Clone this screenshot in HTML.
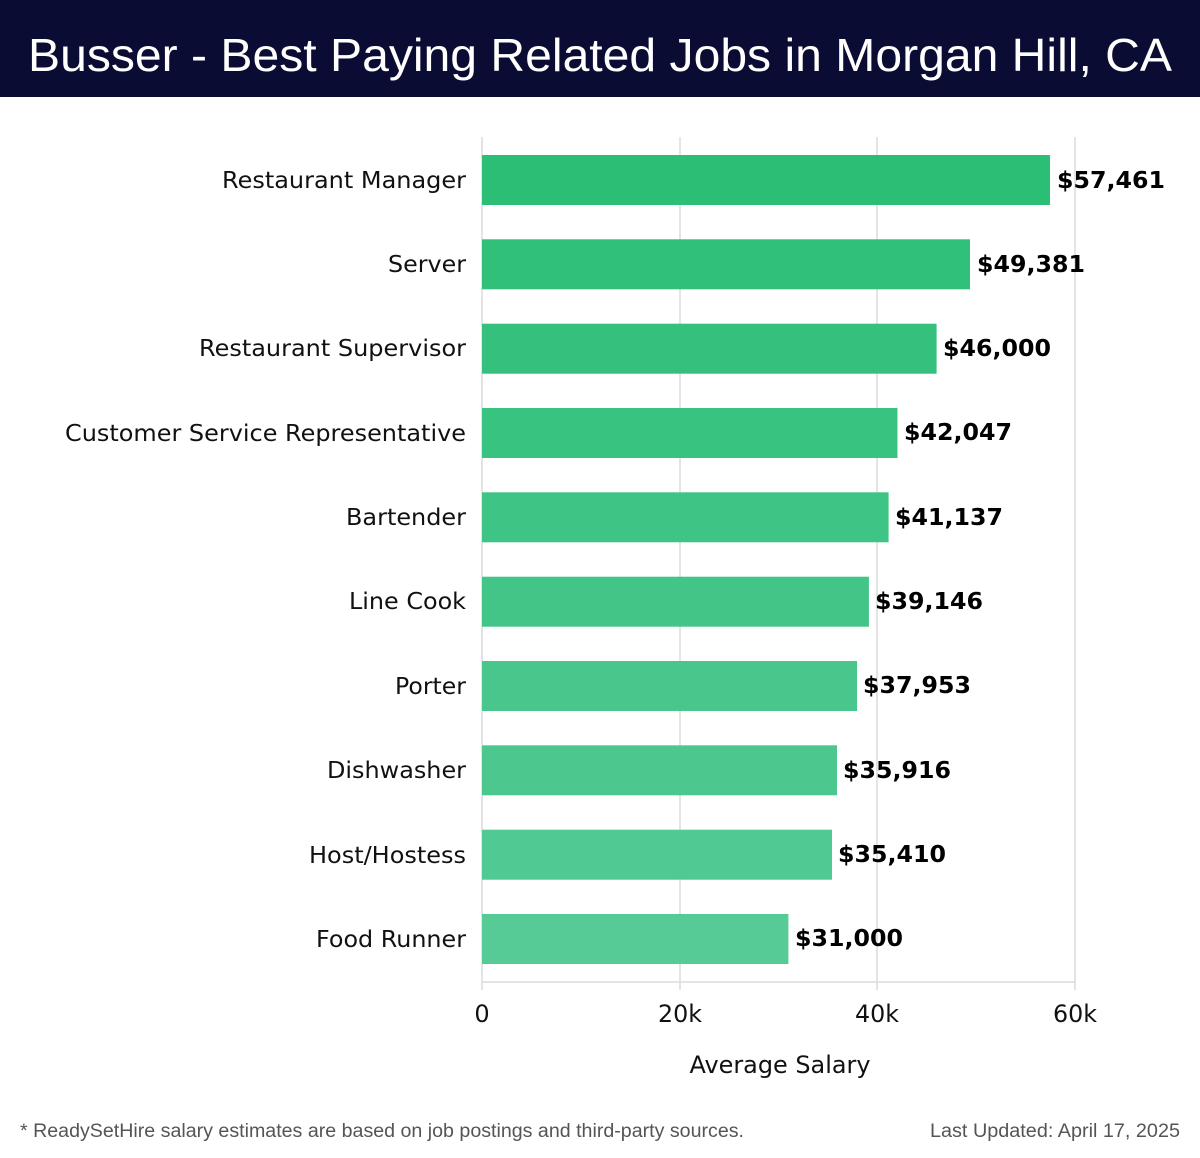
<!DOCTYPE html>
<html><head><meta charset="utf-8"><style>
body{margin:0;background:#fff;}
svg{display:block;font-family:"DejaVu Sans","Liberation Sans",sans-serif;}
</style></head><body>
<svg width="1200" height="1158" viewBox="0 0 1200 1158" xmlns="http://www.w3.org/2000/svg">
<rect x="0" y="0" width="1200" height="97" fill="#0b0c33"/>
<text x="28" y="71" fill="#fff" font-size="46" textLength="1144" lengthAdjust="spacingAndGlyphs" style="font-family:'Liberation Sans',sans-serif">Busser - Best Paying Related Jobs in Morgan Hill, CA</text>
<g stroke="#dcdcdc" stroke-width="1.5">
<line x1="482" y1="137" x2="482" y2="990"/>
<line x1="680" y1="137" x2="680" y2="990"/>
<line x1="877" y1="137" x2="877" y2="990"/>
<line x1="1075" y1="137" x2="1075" y2="990"/>
<line x1="482" y1="982" x2="1075" y2="982"/>
</g>
<g>
<rect x="482" y="155" width="568" height="50" fill="#2bbf76"/>
<rect x="482" y="239.3" width="488" height="50" fill="#30c07a"/>
<rect x="482" y="323.7" width="454.6" height="50" fill="#35c17d"/>
<rect x="482" y="408" width="415.5" height="50" fill="#39c381"/>
<rect x="482" y="492.3" width="406.6" height="50" fill="#3ec484"/>
<rect x="482" y="576.7" width="386.9" height="50" fill="#43c588"/>
<rect x="482" y="661" width="375.1" height="50" fill="#48c68b"/>
<rect x="482" y="745.3" width="355" height="50" fill="#4cc88f"/>
<rect x="482" y="829.7" width="350" height="50" fill="#51c992"/>
<rect x="482" y="914" width="306.4" height="50" fill="#56cb96"/>
</g>
<g font-size="23" fill="#111" text-anchor="end">
<text x="466" y="188" textLength="244" lengthAdjust="spacingAndGlyphs">Restaurant Manager</text>
<text x="466" y="272" textLength="78" lengthAdjust="spacingAndGlyphs">Server</text>
<text x="466" y="356" textLength="267" lengthAdjust="spacingAndGlyphs">Restaurant Supervisor</text>
<text x="466" y="441" textLength="401" lengthAdjust="spacingAndGlyphs">Customer Service Representative</text>
<text x="466" y="525" textLength="120" lengthAdjust="spacingAndGlyphs">Bartender</text>
<text x="466" y="609" textLength="117" lengthAdjust="spacingAndGlyphs">Line Cook</text>
<text x="466" y="694" textLength="71" lengthAdjust="spacingAndGlyphs">Porter</text>
<text x="466" y="778" textLength="139" lengthAdjust="spacingAndGlyphs">Dishwasher</text>
<text x="466" y="863" textLength="157" lengthAdjust="spacingAndGlyphs">Host/Hostess</text>
<text x="466" y="947" textLength="150" lengthAdjust="spacingAndGlyphs">Food Runner</text>
</g>
<g font-size="23" font-weight="bold" fill="#000">
<text x="1057" y="188" textLength="108" lengthAdjust="spacingAndGlyphs">$57,461</text>
<text x="977" y="272" textLength="108" lengthAdjust="spacingAndGlyphs">$49,381</text>
<text x="943" y="356" textLength="108" lengthAdjust="spacingAndGlyphs">$46,000</text>
<text x="904" y="440" textLength="108" lengthAdjust="spacingAndGlyphs">$42,047</text>
<text x="895" y="525" textLength="108" lengthAdjust="spacingAndGlyphs">$41,137</text>
<text x="875" y="609" textLength="108" lengthAdjust="spacingAndGlyphs">$39,146</text>
<text x="863" y="693" textLength="108" lengthAdjust="spacingAndGlyphs">$37,953</text>
<text x="843" y="778" textLength="108" lengthAdjust="spacingAndGlyphs">$35,916</text>
<text x="838" y="862" textLength="108" lengthAdjust="spacingAndGlyphs">$35,410</text>
<text x="795" y="946" textLength="108" lengthAdjust="spacingAndGlyphs">$31,000</text>
</g>
<g font-size="24" fill="#111" text-anchor="middle">
<text x="482" y="1022">0</text>
<text x="680" y="1022" textLength="44" lengthAdjust="spacingAndGlyphs">20k</text>
<text x="877" y="1022" textLength="44" lengthAdjust="spacingAndGlyphs">40k</text>
<text x="1075" y="1022" textLength="44" lengthAdjust="spacingAndGlyphs">60k</text>
<text x="780" y="1073" textLength="181" lengthAdjust="spacingAndGlyphs">Average Salary</text>
</g>
<g style="font-family:'Liberation Sans',sans-serif" font-size="19" fill="#555">
<text x="20" y="1137" textLength="724" lengthAdjust="spacingAndGlyphs">* ReadySetHire salary estimates are based on job postings and third-party sources.</text>
<text x="930" y="1137" textLength="250" lengthAdjust="spacingAndGlyphs">Last Updated: April 17, 2025</text>
</g>
</svg>
</body></html>
